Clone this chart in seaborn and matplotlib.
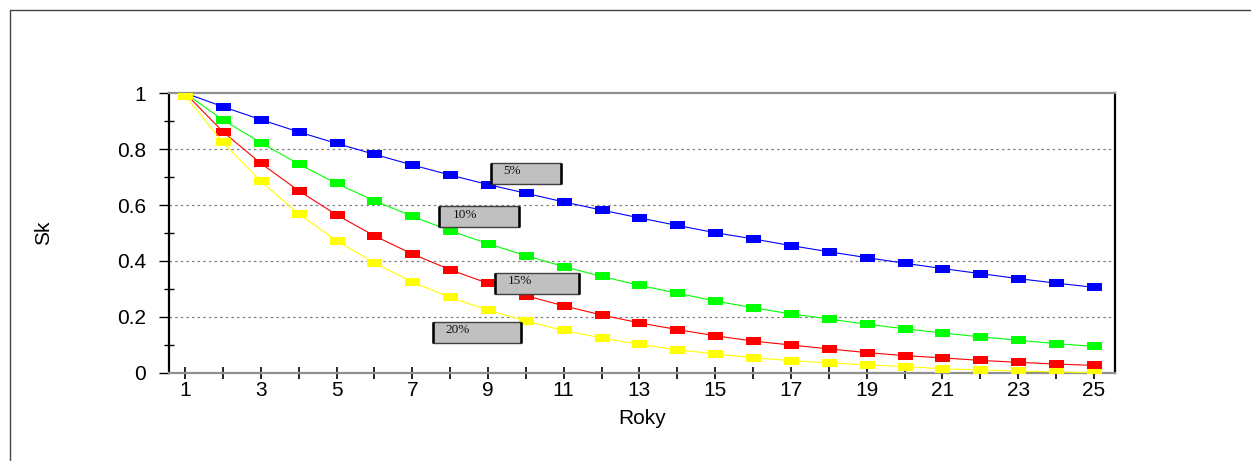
import numpy as np
import pandas as pd
import matplotlib
matplotlib.use("Agg")
import matplotlib.pyplot as plt
from matplotlib.patches import Rectangle
from matplotlib.lines import Line2D
from matplotlib.ticker import FixedLocator
import seaborn as sns

years = list(range(1, 26))
sk_5 = [1.000, 0.951, 0.905, 0.861, 0.820, 0.781, 0.743, 0.707, 0.673, 0.642,
        0.611, 0.582, 0.554, 0.527, 0.501, 0.479, 0.455, 0.433, 0.412, 0.392,
        0.373, 0.355, 0.337, 0.321, 0.306]
sk_10 = [1.000, 0.904, 0.823, 0.746, 0.677, 0.615, 0.560, 0.508, 0.462, 0.419,
         0.380, 0.345, 0.313, 0.285, 0.257, 0.233, 0.211, 0.193, 0.174, 0.158,
         0.143, 0.129, 0.117, 0.105, 0.095]
sk_15 = [1.000, 0.862, 0.749, 0.651, 0.565, 0.490, 0.425, 0.369, 0.320, 0.276,
         0.240, 0.207, 0.179, 0.155, 0.133, 0.114, 0.100, 0.086, 0.073, 0.062,
         0.054, 0.045, 0.038, 0.032, 0.027]
sk_20 = [0.990, 0.824, 0.685, 0.568, 0.473, 0.393, 0.325, 0.270, 0.225, 0.185,
         0.152, 0.125, 0.102, 0.083, 0.068, 0.055, 0.044, 0.036, 0.029, 0.023,
         0.015, 0.011, 0.007, 0.004, 0.001]
series_names = ["5%", "10%", "15%", "20%"]
series_values = [sk_5, sk_10, sk_15, sk_20]
colors = ["#0000ff", "#00ff00", "#ff0000", "#ffff00"]
xtick_labels = [str(y) for y in range(1, 26, 2)]
ytick_labels = ["0", "0.2", "0.4", "0.6", "0.8", "1"]
xlabel = "Roky"
ylabel = "Sk"
# label boxes: (name, x0, x1, y0, y1, text_x)
label_boxes = [("5%", 9.07, 10.92, 0.675, 0.751, 9.39),
               ("10%", 7.71, 9.82, 0.520, 0.596, 8.06),
               ("15%", 9.18, 11.39, 0.282, 0.358, 9.52),
               ("20%", 7.56, 9.86, 0.106, 0.182, 7.88)]

df = pd.DataFrame({
    "Rok": years * len(series_names),
    "Sk": sum(series_values, []),
    "Sazba": sum([[n] * len(years) for n in series_names], []),
})

sns.set_theme(style="white")
plt.rcParams["font.family"] = ["Liberation Sans", "DejaVu Sans"]
plt.rcParams["text.color"] = "black"
plt.rcParams["axes.labelcolor"] = "black"
plt.rcParams["xtick.color"] = "black"
plt.rcParams["ytick.color"] = "black"

W, H = 1251, 461
fig = plt.figure(figsize=(W / 100, H / 100), dpi=100)
ax = fig.add_axes([169 / W, 1 - 373 / H, (1115 - 169) / W, 280 / H])

rect_marker = [(-1, -0.5), (1, -0.5), (1, 0.5), (-1, 0.5), (-1, -0.5)]
for name, col in zip(series_names, colors):
    sns.lineplot(data=df[df["Sazba"] == name], x="Rok", y="Sk", color=col,
                 linewidth=0.8, marker=rect_marker, markersize=10.8,
                 markeredgewidth=0, legend=False, ax=ax, zorder=3)

ax.set_xlim(1 - 16 / 37.875, 25 + 21 / 37.875)
ax.set_ylim(0, 1)

# grid
for yv in [0.2, 0.4, 0.6, 0.8]:
    ax.axhline(yv, color="#808080", linestyle=(0, (2, 2.5)), linewidth=0.9, zorder=1)

ax.spines["top"].set_color("#909090")
ax.spines["bottom"].set_color("#909090")
ax.spines["left"].set_color("black")
ax.spines["right"].set_color("black")
for s in ax.spines.values():
    s.set_linewidth(1.6)
    s.set_visible(True)

ax.xaxis.set_major_locator(FixedLocator(list(range(1, 26, 2))))
ax.xaxis.set_minor_locator(FixedLocator(list(range(2, 26, 2))))
ax.set_xticklabels(xtick_labels)
ax.yaxis.set_major_locator(FixedLocator([0, 0.2, 0.4, 0.6, 0.8, 1.0]))
ax.yaxis.set_minor_locator(FixedLocator([0.1, 0.3, 0.5, 0.7, 0.9]))
ax.set_yticklabels(ytick_labels)

ax.tick_params(axis="x", which="both", direction="inout", length=9, width=1.2,
               color="black", labelcolor="black", labelsize=15, pad=1,
               bottom=True, top=False)
ax.tick_params(axis="y", which="major", direction="out", length=7.5, width=1.0,
               color="black", labelcolor="black", labelsize=15, pad=9,
               left=True, right=False)
ax.tick_params(axis="y", which="minor", direction="inout", length=6.5, width=1.0,
               color="black", left=True, right=False)

ax.set_xlabel(xlabel, fontsize=15, labelpad=7, color="black")
ax.set_ylabel(ylabel, fontsize=15, color="black")
ax.yaxis.set_label_coords((53 - 169) / (1115 - 169), 0.5)

# label boxes
for name, x0, x1, y0, y1, tx in label_boxes:
    ax.add_patch(Rectangle((x0, y0), x1 - x0, y1 - y0, facecolor="#c0c0c0",
                           edgecolor="#404040", linewidth=1.0, zorder=5))
    ax.plot([x0, x0], [y0, y1], color="black", linewidth=1.8, zorder=6,
            solid_capstyle="butt")
    ax.plot([x1, x1], [y0, y1], color="black", linewidth=1.8, zorder=6,
            solid_capstyle="butt")
    ax.text(tx, (y0 + y1) / 2 + 0.008, name, fontsize=9.5, va="center", ha="left",
            family=["Liberation Serif", "DejaVu Serif"], color="#111111", zorder=7)

# outer frame
fig.add_artist(Line2D([10 / W, 10 / W], [0, 1 - 10 / H], color="#444444", linewidth=1.0))
fig.add_artist(Line2D([10 / W, 1], [1 - 10 / H, 1 - 10 / H], color="#444444", linewidth=1.0))

fig.savefig("out.png", dpi=100, facecolor="white")
